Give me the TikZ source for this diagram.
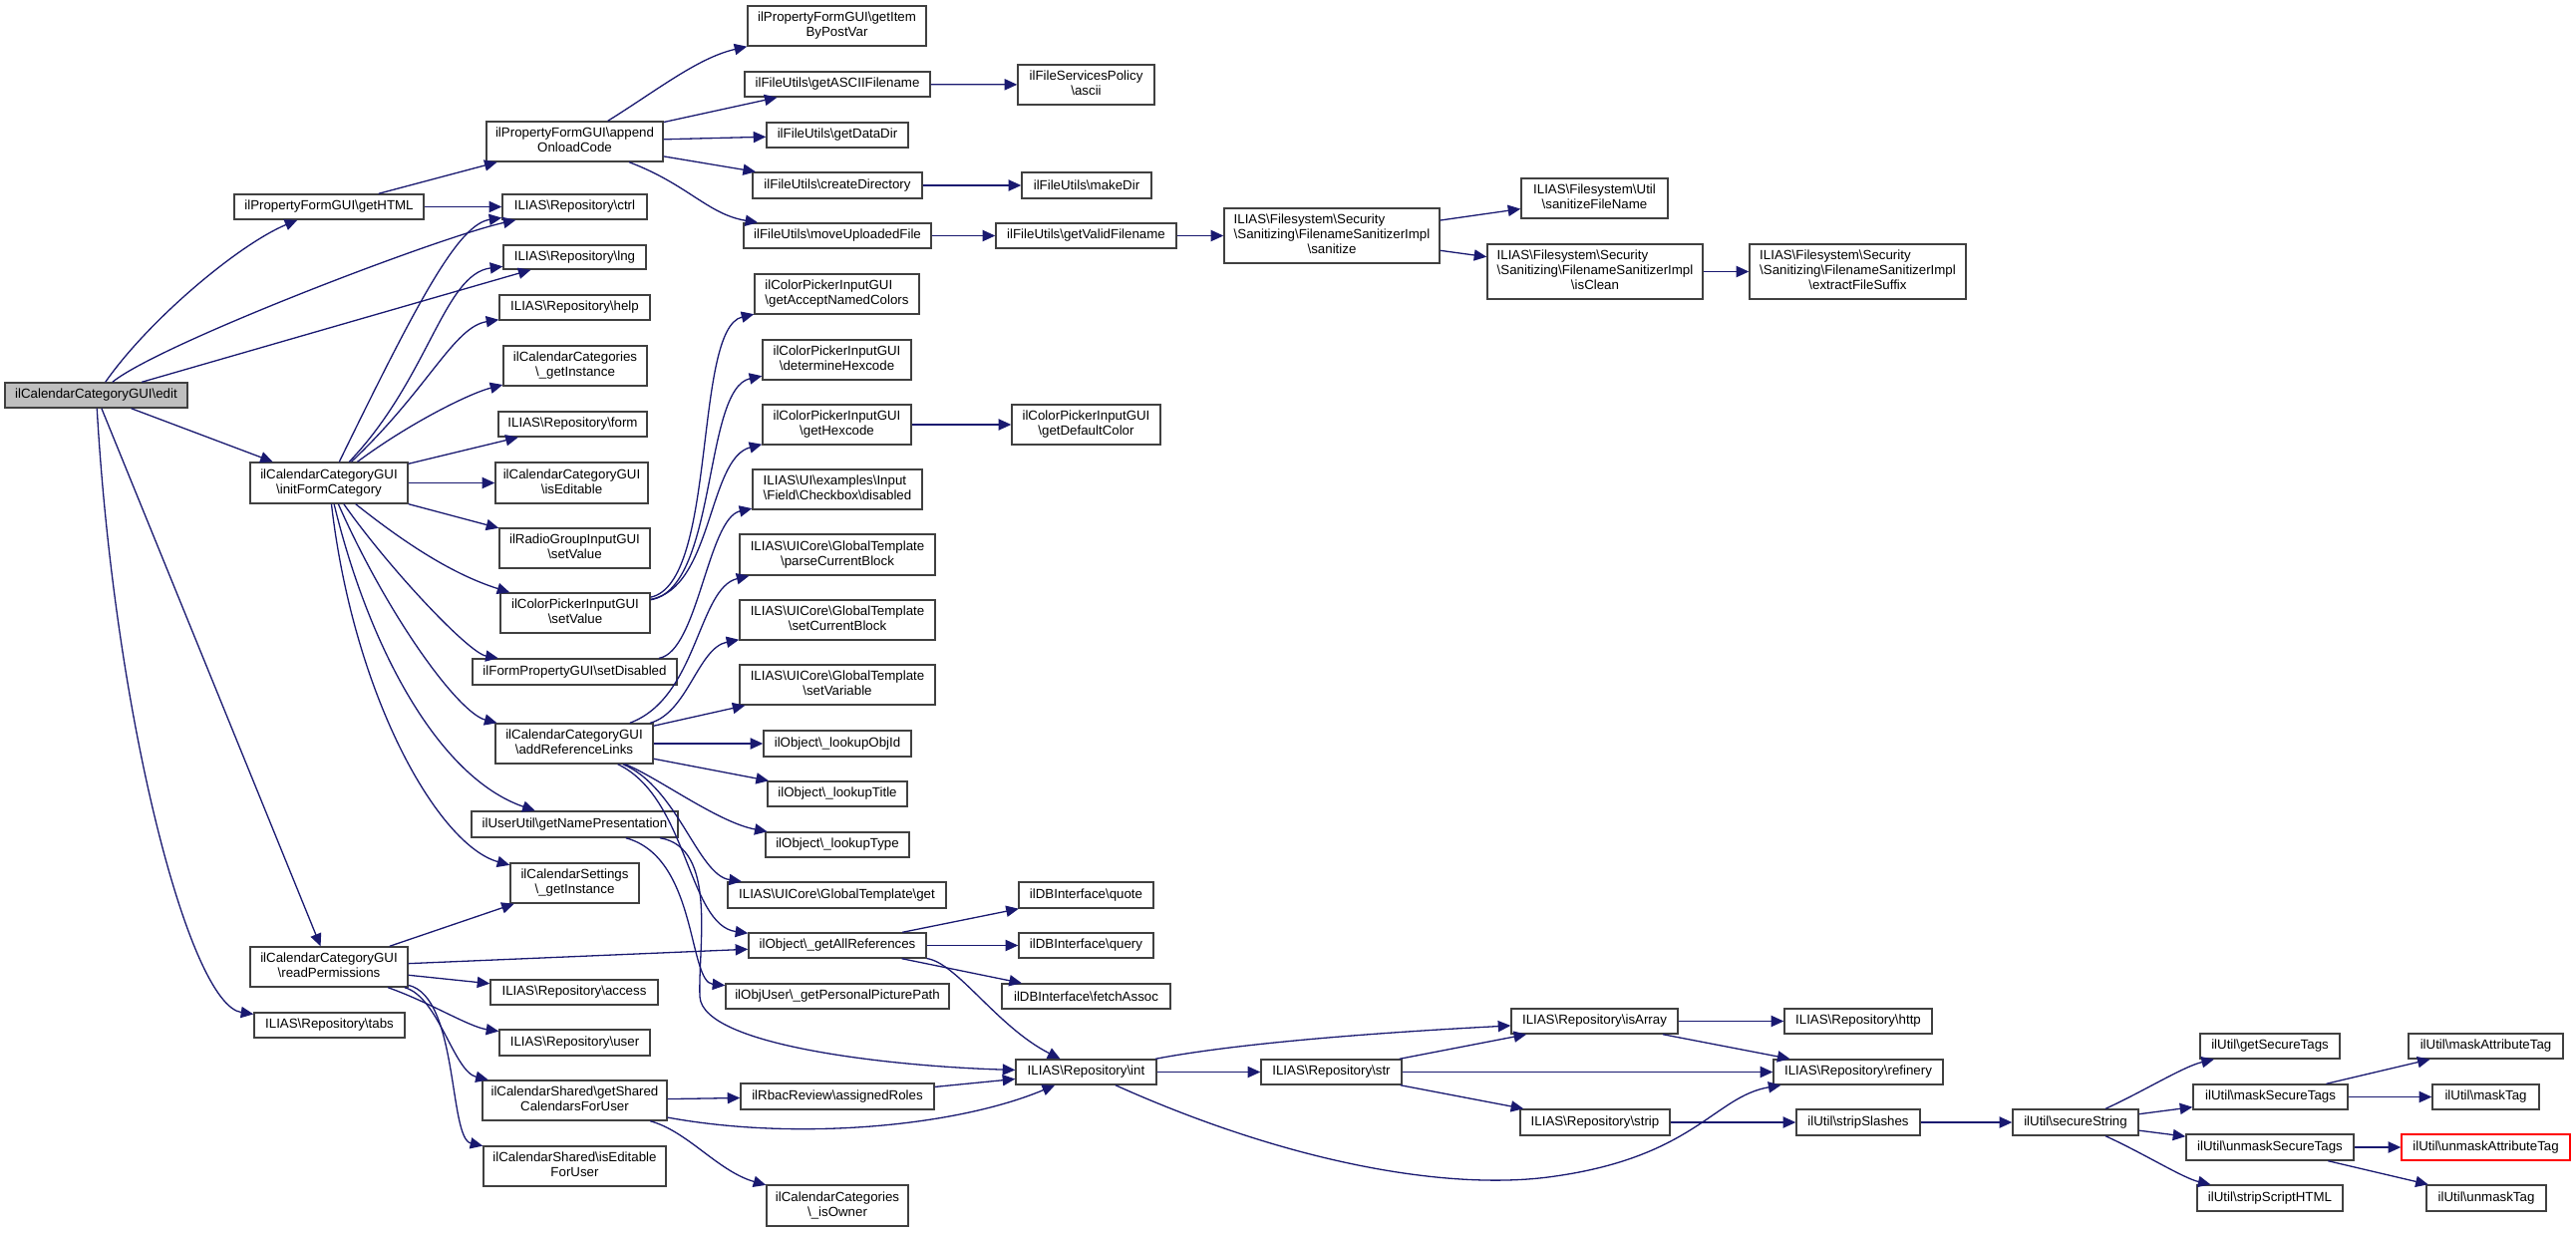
\documentclass[tikz,border=0pt]{standalone}
\usepackage{fontspec}
\setmainfont{Liberation Sans}
\usetikzlibrary{arrows.meta}
\definecolor{edgec}{RGB}{25,25,112}
\definecolor{boxc}{RGB}{64,64,64}
\definecolor{editfill}{RGB}{191,191,191}
\newcommand\bsl{\textbackslash}
\newcommand\twol[2]{\begin{tabular}{@{}l@{}}#1\\\multicolumn{1}{@{}c@{}}{#2}\end{tabular}}
\newcommand\threel[3]{\begin{tabular}{@{}l@{}}#1\\#2\\\multicolumn{1}{@{}c@{}}{#3}\end{tabular}}
\newcommand\bx[7][]{%
 \pgfmathsetmacro\bxw{(#5-#3)*0.5}%
 \pgfmathsetmacro\bxh{(#6-#4)*0.5}%
 \pgfmathsetmacro\bxx{(#3+#5)/2}%
 \pgfmathsetmacro\bxy{(#4+#6)/2}%
 \node[box,#1,minimum width=\bxw pt,minimum height=\bxh pt] (#2) at (\bxx,\bxy) {#7};}
\begin{document}
\begin{tikzpicture}[x=0.5pt,y=-0.5pt,
 box/.style={draw=boxc,line width=0.7pt,fill=white,inner sep=0pt,font=\fontsize{6.65}{7.5}\selectfont,align=center},
 edg/.style={draw=edgec,line width=0.65pt,-{Triangle[length=6.3pt,width=5.6pt,fill=edgec]}}]
\useasboundingbox (0,0) rectangle (2584,1236);
% column 1
\bx[fill=editfill]{edit}{5}{384}{188}{409}{ilCalendarCategoryGUI\bsl edit}
% column 2
\bx{getHTML}{235}{195}{425}{220}{ilPropertyFormGUI\bsl getHTML}
\bx{init}{251}{464}{409}{505}{\twol{ilCalendarCategoryGUI}{\bsl initFormCategory}}
\bx{readPerm}{251}{950}{409}{990}{\twol{ilCalendarCategoryGUI}{\bsl readPermissions}}
\bx{tabs}{255}{1016}{406}{1041}{ILIAS\bsl Repository\bsl tabs}
% column 3
\bx{append}{488}{122}{665}{162}{\twol{ilPropertyFormGUI\bsl append}{OnloadCode}}
\bx{ctrl}{504}{195}{649}{220}{ILIAS\bsl Repository\bsl ctrl}
\bx{lng}{505}{246}{648}{270}{ILIAS\bsl Repository\bsl lng}
\bx{help}{501}{296}{652}{321}{ILIAS\bsl Repository\bsl help}
\bx{catGI}{505}{347}{649}{387}{\twol{ilCalendarCategories}{\bsl\_getInstance}}
\bx{form}{500}{413}{649}{438}{ILIAS\bsl Repository\bsl form}
\bx{isEditable}{497}{464}{650}{505}{\twol{ilCalendarCategoryGUI}{\bsl isEditable}}
\bx{radioSet}{501}{530}{652}{570}{\twol{ilRadioGroupInputGUI}{\bsl setValue}}
\bx{cpSet}{502}{595}{652}{635}{\twol{ilColorPickerInputGUI}{\bsl setValue}}
\bx{setDisabled}{474}{661}{679}{687}{ilFormPropertyGUI\bsl setDisabled}
\bx{addRef}{497}{726}{655}{766}{\twol{ilCalendarCategoryGUI}{\bsl addReferenceLinks}}
\bx{getNamePres}{473}{814}{680}{840}{ilUserUtil\bsl getNamePresentation}
\bx{calSettings}{512}{866}{641}{906}{\twol{ilCalendarSettings}{\bsl\_getInstance}}
\bx{access}{492}{983}{660}{1008}{ILIAS\bsl Repository\bsl access}
\bx{user}{501}{1033}{652}{1059}{ILIAS\bsl Repository\bsl user}
\bx{getShared}{484}{1084}{669}{1124}{\twol{ilCalendarShared\bsl getShared}{CalendarsForUser}}
\bx{isEdFU}{485}{1150}{668}{1190}{\twol{ilCalendarShared\bsl isEditable}{ForUser}}
% column 4
\bx{getItem}{750}{6}{929}{46}{\twol{ilPropertyFormGUI\bsl getItem}{ByPostVar}}
\bx{getASCII}{747}{72}{933}{97}{ilFileUtils\bsl getASCIIFilename}
\bx{getDataDir}{769}{123}{911}{148}{ilFileUtils\bsl getDataDir}
\bx{createDir}{755}{173}{925}{199}{ilFileUtils\bsl createDirectory}
\bx{moveUp}{746}{224}{934}{249}{ilFileUtils\bsl moveUploadedFile}
\bx{getAccept}{757}{275}{922}{315}{\twol{ilColorPickerInputGUI}{\bsl getAcceptNamedColors}}
\bx{determineHex}{765}{341}{914}{381}{\twol{ilColorPickerInputGUI}{\bsl determineHexcode}}
\bx{getHex}{765}{406}{914}{446}{\twol{ilColorPickerInputGUI}{\bsl getHexcode}}
\bx{checkbox}{755}{471}{925}{511}{\twol{ILIAS\bsl UI\bsl examples\bsl Input}{\bsl Field\bsl Checkbox\bsl disabled}}
\bx{parseCB}{742}{536}{938}{577}{\twol{ILIAS\bsl UICore\bsl GlobalTemplate}{\bsl parseCurrentBlock}}
\bx{setCB}{742}{602}{938}{642}{\twol{ILIAS\bsl UICore\bsl GlobalTemplate}{\bsl setCurrentBlock}}
\bx{setVar}{742}{667}{938}{707}{\twol{ILIAS\bsl UICore\bsl GlobalTemplate}{\bsl setVariable}}
\bx{lookupObjId}{766}{733}{914}{759}{ilObject\bsl\_lookupObjId}
\bx{lookupTitle}{770}{784}{910}{809}{ilObject\bsl\_lookupTitle}
\bx{lookupType}{768}{835}{912}{860}{ilObject\bsl\_lookupType}
\bx{gtGet}{730}{885}{949}{911}{ILIAS\bsl UICore\bsl GlobalTemplate\bsl get}
\bx{gar}{751}{936}{929}{961}{ilObject\bsl\_getAllReferences}
\bx{picPath}{728}{987}{952}{1012}{ilObjUser\bsl\_getPersonalPicturePath}
\bx{assignedRoles}{743}{1087}{937}{1113}{ilRbacReview\bsl assignedRoles}
\bx{isOwner}{769}{1189}{911}{1230}{\twol{ilCalendarCategories}{\bsl\_isOwner}}
% column 5
\bx{ascii}{1021}{65}{1158}{105}{\twol{ilFileServicesPolicy}{\bsl ascii}}
\bx{makeDir}{1025}{173}{1155}{199}{ilFileUtils\bsl makeDir}
\bx{getValid}{999}{224}{1180}{249}{ilFileUtils\bsl getValidFilename}
\bx{defColor}{1015}{406}{1164}{446}{\twol{ilColorPickerInputGUI}{\bsl getDefaultColor}}
\bx{quote}{1022}{885}{1157}{911}{ilDBInterface\bsl quote}
\bx{query}{1022}{936}{1157}{961}{ilDBInterface\bsl query}
\bx{fetch}{1005}{987}{1174}{1012}{ilDBInterface\bsl fetchAssoc}
\bx{int}{1019}{1063}{1160}{1088}{ILIAS\bsl Repository\bsl int}
% column 6
\bx{sanitize}{1228}{209}{1444}{264}{\threel{ILIAS\bsl Filesystem\bsl Security}{\bsl Sanitizing\bsl FilenameSanitizerImpl}{\bsl sanitize}}
\bx{str}{1265}{1063}{1406}{1088}{ILIAS\bsl Repository\bsl str}
% column 7
\bx{sanitizeFN}{1526}{179}{1673}{219}{\twol{ILIAS\bsl Filesystem\bsl Util}{\bsl sanitizeFileName}}
\bx{isClean}{1492}{245}{1708}{300}{\threel{ILIAS\bsl Filesystem\bsl Security}{\bsl Sanitizing\bsl FilenameSanitizerImpl}{\bsl isClean}}
\bx{isArray}{1516}{1012}{1683}{1037}{ILIAS\bsl Repository\bsl isArray}
\bx{strip}{1525}{1113}{1675}{1139}{ILIAS\bsl Repository\bsl strip}
% column 8
\bx{extract}{1755}{245}{1972}{300}{\threel{ILIAS\bsl Filesystem\bsl Security}{\bsl Sanitizing\bsl FilenameSanitizerImpl}{\bsl extractFileSuffix}}
\bx{http}{1790}{1012}{1938}{1037}{ILIAS\bsl Repository\bsl http}
\bx{refinery}{1779}{1063}{1949}{1088}{ILIAS\bsl Repository\bsl refinery}
\bx{stripSlashes}{1802}{1113}{1926}{1139}{ilUtil\bsl stripSlashes}
% column 9
\bx{secureString}{2019}{1113}{2145}{1139}{ilUtil\bsl secureString}
% column 10
\bx{getSecureTags}{2207}{1037}{2347}{1062}{ilUtil\bsl getSecureTags}
\bx{maskSecure}{2200}{1088}{2355}{1113}{ilUtil\bsl maskSecureTags}
\bx{unmaskSecure}{2193}{1138}{2361}{1164}{ilUtil\bsl unmaskSecureTags}
\bx{stripScript}{2204}{1189}{2350}{1215}{ilUtil\bsl stripScriptHTML}
% column 11
\bx{maskAttr}{2416}{1037}{2571}{1062}{ilUtil\bsl maskAttributeTag}
\bx{maskTag}{2440}{1088}{2547}{1113}{ilUtil\bsl maskTag}
\bx[draw=red]{unmaskAttr}{2409}{1138}{2578}{1164}{ilUtil\bsl unmaskAttributeTag}
\bx{unmaskTag}{2434}{1189}{2554}{1215}{ilUtil\bsl unmaskTag}
% edges
\draw[edg] (edit) .. controls (150,320) and (240,245) .. (getHTML);
\draw[edg] (edit) .. controls (160,345) and (440,238) .. (ctrl);
\draw[edg] (edit) -- (lng);
\draw[edg] (edit) -- (init);
\draw[edg] (edit) -- (readPerm);
\draw[edg] (edit) .. controls (115,720) and (190,1008) .. (tabs);
\draw[edg] (getHTML) -- (append);
\draw[edg] (getHTML) -- (ctrl);
\draw[edg] (append) .. controls (660,90) and (700,58) .. (getItem);
\draw[edg] (append) -- (getASCII);
\draw[edg] (append) -- (getDataDir);
\draw[edg] (append) -- (createDir);
\draw[edg] (append) .. controls (690,185) and (710,215) .. (moveUp);
\draw[edg] (getASCII) -- (ascii);
\draw[edg] (createDir) -- (makeDir);
\draw[edg] (moveUp) -- (getValid);
\draw[edg] (getValid) -- (sanitize);
\draw[edg] (sanitize) -- (sanitizeFN);
\draw[edg] (sanitize) -- (isClean);
\draw[edg] (isClean) -- (extract);
\draw[edg] (init) .. controls (420,300) and (460,225) .. (ctrl);
\draw[edg] (init) .. controls (430,380) and (445,275) .. (lng);
\draw[edg] (init) .. controls (430,390) and (455,328) .. (help);
\draw[edg] (init) .. controls (410,425) and (470,395) .. (catGI);
\draw[edg] (init) -- (form);
\draw[edg] (init) -- (isEditable);
\draw[edg] (init) -- (radioSet);
\draw[edg] (init) .. controls (400,540) and (450,575) .. (cpSet);
\draw[edg] (init) .. controls (390,570) and (470,655) .. (setDisabled);
\draw[edg] (init) .. controls (390,620) and (460,715) .. (addRef);
\draw[edg] (init) .. controls (370,650) and (440,780) .. (getNamePres);
\draw[edg] (init) .. controls (355,700) and (440,848) .. (calSettings);
\draw[edg] (cpSet) .. controls (720,585) and (695,330) .. (getAccept);
\draw[edg] (cpSet) .. controls (720,590) and (705,390) .. (determineHex);
\draw[edg] (cpSet) .. controls (715,590) and (710,460) .. (getHex);
\draw[edg] (getHex) -- (defColor);
\draw[edg] (setDisabled) .. controls (700,654) and (710,520) .. (checkbox);
\draw[edg] (addRef) .. controls (700,700) and (700,590) .. (parseCB);
\draw[edg] (addRef) .. controls (690,715) and (700,650) .. (setCB);
\draw[edg] (addRef) -- (setVar);
\draw[edg] (addRef) -- (lookupObjId);
\draw[edg] (addRef) -- (lookupTitle);
\draw[edg] (addRef) .. controls (660,780) and (720,825) .. (lookupType);
\draw[edg] (addRef) .. controls (680,790) and (700,878) .. (gtGet);
\draw[edg] (addRef) .. controls (690,800) and (690,928) .. (gar);
\draw[edg] (getNamePres) .. controls (700,860) and (690,985) .. (picPath);
\draw[edg] (getNamePres) .. controls (720,850) and (700,950) .. (702,1000) .. controls (705,1050) and (900,1070) .. (int);
\draw[edg] (readPerm) -- (calSettings);
\draw[edg] (readPerm) -- (gar);
\draw[edg] (readPerm) -- (access);
\draw[edg] (readPerm) .. controls (430,1005) and (470,1030) .. (user);
\draw[edg] (readPerm) .. controls (440,1000) and (455,1075) .. (getShared);
\draw[edg] (readPerm) .. controls (460,1000) and (450,1142) .. (isEdFU);
\draw[edg] (getShared) -- (assignedRoles);
\draw[edg] (getShared) .. controls (800,1145) and (960,1130) .. (int);
\draw[edg] (getShared) .. controls (690,1135) and (720,1175) .. (isOwner);
\draw[edg] (assignedRoles) -- (int);
\draw[edg] (gar) -- (quote);
\draw[edg] (gar) -- (query);
\draw[edg] (gar) -- (fetch);
\draw[edg] (gar) .. controls (960,966) and (1000,1030) .. (int);
\draw[edg] (int) -- (str);
\draw[edg] (int) .. controls (1250,1045) and (1400,1035) .. (isArray);
\draw[edg] (int) .. controls (1300,1170) and (1460,1195) .. (1560,1180) .. controls (1700,1160) and (1720,1100) .. (refinery);
\draw[edg] (str) -- (isArray);
\draw[edg] (str) -- (refinery);
\draw[edg] (str) -- (strip);
\draw[edg] (isArray) -- (http);
\draw[edg] (isArray) -- (refinery);
\draw[edg] (strip) -- (stripSlashes);
\draw[edg] (stripSlashes) -- (secureString);
\draw[edg] (secureString) .. controls (2150,1095) and (2190,1070) .. (getSecureTags);
\draw[edg] (secureString) -- (maskSecure);
\draw[edg] (secureString) -- (unmaskSecure);
\draw[edg] (secureString) .. controls (2150,1157) and (2190,1182) .. (stripScript);
\draw[edg] (maskSecure) -- (maskAttr);
\draw[edg] (maskSecure) -- (maskTag);
\draw[edg] (unmaskSecure) -- (unmaskAttr);
\draw[edg] (unmaskSecure) -- (unmaskTag);
\end{tikzpicture}
\end{document}
